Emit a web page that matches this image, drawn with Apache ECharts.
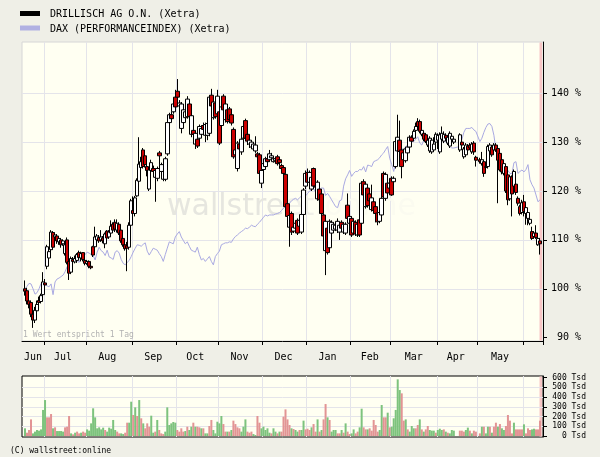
<!DOCTYPE html>
<html><head><meta charset="utf-8">
<script src="https://cdn.jsdelivr.net/npm/echarts@6/dist/echarts.min.js"></script>
<style>html,body{margin:0;padding:0;background:#efefe7;}#c{width:600px;height:457px;}</style>
</head><body><div id="c"></div>
<script>
// ---- axis / category data ----
const monthNames = ['Jun','Jul','Aug','Sep','Oct','Nov','Dec','Jan','Feb','Mar','Apr','May','Jun'];
const monthDays  = [11,21,23,22,21,22,22,22,20,23,20,23,10];
const labelSlots = [5,20,42,65,86,108,130,152,173,195,216,238];
const priceTicks = [90,100,110,120,130,140];
const priceGridLines = [100,110,120,130,140];
const volumeTicks = [0,100,200,300,400,500,600];
const volumeGridLines = [100,200,300,400,500];

// ---- DRILLISCH candles [open, close, low, high] in % ----
const drillisch = [
null,
[100.0,99.5,98.6,101.7],[99.6,97.5,96.8,100.2],[97.5,96.8,96.0,98.6],[97.2,94.8,94.2,97.6],[94.8,93.6,92.0,96.2],
[93.6,95.6,93.0,96.3],[95.5,96.8,95.0,97.6],[97.6,97.2,96.6,98.4],[97.4,98.6,97.0,99.0],[98.8,101.4,98.2,103.4],
[101.2,100.8,99.8,102.0],[104.6,108.6,104.0,109.0],[106.3,107.6,105.5,108.0],[108.0,111.6,107.5,112.0],[111.5,108.5,108.0,111.8],
[110.6,111.0,110.0,111.5],[110.8,109.8,109.2,111.2],[109.6,110.3,109.0,110.8],[110.0,109.0,108.4,110.4],[109.2,109.8,108.8,110.1],
[107.2,109.0,106.8,109.4],[110.0,105.4,105.0,110.5],[105.6,103.2,101.8,106.0],[103.4,106.2,103.0,106.6],[106.0,105.6,105.0,106.5],
[105.5,106.2,105.2,106.8],[105.8,107.0,105.3,107.3],[107.4,106.4,106.0,107.8],[106.3,107.2,105.6,107.6],[107.4,106.0,105.6,107.5],
[105.8,105.2,104.8,106.2],[105.2,105.6,104.9,105.9],[105.6,104.6,104.2,105.8],[104.6,104.3,104.0,105.4],[108.6,106.9,106.5,108.8],
[108.6,110.6,108.3,112.7],[110.0,110.8,109.5,111.2],[110.5,109.8,109.4,111.0],[110.0,110.6,109.6,112.0],[110.4,109.8,109.3,110.8],
[109.2,111.2,108.3,111.5],[111.8,110.4,110.0,112.0],[110.6,111.6,110.2,112.0],[111.4,112.8,111.0,114.0],[113.2,112.0,111.8,113.6],
[113.6,112.2,111.6,114.2],[112.0,113.4,111.5,114.2],[113.2,111.4,111.0,113.6],[112.0,109.8,109.4,112.4],[110.3,109.0,108.6,110.6],
[109.0,108.2,107.8,109.6],[108.8,108.3,103.6,109.6],[108.5,113.0,108.0,113.6],[113.0,118.0,112.6,118.4],[116.0,115.4,114.8,118.9],
[115.4,118.6,114.8,119.0],[119.0,122.2,118.8,122.6],[122.0,125.5,121.0,131.0],[124.8,126.0,124.2,127.0],[128.4,125.0,124.6,128.8],
[127.2,125.4,124.8,127.6],[125.0,124.2,123.0,125.6],[120.4,124.3,120.0,124.8],[124.2,125.8,123.6,126.4],[124.6,124.0,123.6,125.2],
[122.8,124.2,117.8,124.6],[122.6,124.6,122.0,125.0],[127.8,127.2,124.0,128.2],[124.0,125.4,123.2,125.8],[122.4,124.0,122.0,124.6],
[122.4,126.6,122.0,127.0],[127.6,134.0,127.2,134.4],[134.0,135.6,133.6,136.0],[135.6,134.8,134.2,136.2],[136.2,137.8,135.8,138.2],
[139.2,137.2,136.8,140.7],[140.4,139.2,138.8,142.9],[137.4,138.0,137.0,138.6],[132.8,137.8,131.8,138.2],[134.0,136.6,133.2,137.0],
[135.0,136.2,134.4,137.0],[135.2,138.8,134.8,139.4],[137.8,135.2,134.8,138.2],[131.6,135.4,131.0,135.8],[132.4,131.6,129.6,132.8],
[129.6,131.8,128.6,132.2],[130.6,129.2,128.8,131.0],[130.8,133.2,130.4,133.6],[131.6,132.8,131.0,133.4],[133.4,132.6,132.0,134.0],
[131.4,133.6,130.0,134.0],[131.4,133.8,130.4,134.2],[131.8,139.2,131.2,139.6],[139.6,137.4,137.0,140.9],[135.0,138.2,134.6,138.6],
[138.0,135.2,134.8,138.4],[135.8,139.4,135.4,140.7],[136.2,129.8,129.4,136.6],[133.4,137.2,133.0,138.0],[139.4,136.6,136.2,139.8],
[134.6,137.8,134.0,138.2],[136.6,134.2,133.8,137.0],[136.8,134.6,134.2,137.2],[135.6,133.9,133.4,136.0],[132.6,127.0,126.6,133.0],
[127.4,128.4,126.8,129.0],[124.6,129.8,124.0,130.2],[129.6,128.6,127.6,130.4],[128.0,130.6,127.4,131.0],[130.8,133.2,130.4,133.6],
[134.4,130.8,130.4,134.8],[131.6,130.2,129.4,132.0],[129.6,130.4,128.8,131.2],[129.0,130.0,128.6,130.4],[128.6,129.6,128.2,130.0],
[128.2,129.4,127.8,131.2],[127.6,127.0,126.8,128.0],[127.4,123.6,123.2,127.8],[121.6,124.2,120.6,124.6],[124.4,125.6,124.0,126.0],
[125.0,126.6,124.6,127.0],[126.6,126.0,125.6,127.0],[126.4,127.6,126.0,128.4],[126.8,127.2,126.4,127.8],[126.0,126.6,125.8,127.0],
[126.2,126.6,125.8,127.0],[127.0,125.6,125.2,127.4],[126.4,125.8,125.2,126.8],[125.2,124.6,124.2,125.6],[124.8,123.6,123.2,125.0],
[123.4,116.8,116.4,123.6],[117.4,114.8,114.2,117.8],[112.6,115.0,108.6,115.4],[115.4,111.6,111.0,115.8],[111.8,112.6,111.4,113.0],
[112.4,113.4,112.0,113.8],[114.0,111.4,111.0,114.4],[112.8,114.0,112.2,114.4],[111.6,115.2,111.2,115.6],[115.2,120.2,114.8,120.6],
[121.0,123.6,120.4,124.2],[123.8,121.8,121.4,124.6],[121.8,123.8,121.4,124.2],[120.4,122.8,120.0,123.2],[124.6,121.0,120.6,124.8],
[121.0,120.8,120.2,121.6],[118.4,121.8,118.0,122.2],[120.4,118.2,117.8,120.8],[119.4,115.4,115.0,119.8],[115.1,110.8,110.4,115.4],
[107.8,113.8,102.8,114.2],[112.4,107.4,107.0,112.8],[108.4,113.8,108.0,114.2],[111.4,113.6,111.0,114.0],[112.0,113.2,111.6,113.6],
[112.2,113.0,111.8,113.4],[112.0,113.8,111.4,114.4],[111.6,113.0,110.0,113.4],[113.6,112.4,112.0,114.0],[111.6,113.2,111.2,113.6],
[111.4,113.2,111.0,113.6],[117.1,114.4,114.0,119.5],[113.4,114.8,113.0,115.6],[114.4,111.0,110.6,114.8],[111.4,113.8,111.0,114.2],
[113.6,111.2,110.8,114.0],[111.0,113.2,110.6,113.6],[114.1,111.0,110.6,114.4],[113.4,121.6,113.0,122.0],[121.9,119.2,118.8,122.4],
[116.8,121.4,116.4,121.8],[120.6,117.0,116.6,121.0],[119.4,118.0,117.6,119.8],[116.2,118.6,115.8,121.3],[117.8,116.0,115.6,118.2],
[116.8,115.4,113.6,117.2],[115.5,113.7,113.0,115.8],[113.8,115.6,113.4,116.0],[115.1,118.5,114.8,118.9],[123.6,118.8,118.4,124.0],
[118.5,123.4,118.0,123.8],[121.6,119.6,119.2,122.0],[120.6,121.6,120.2,122.0],[122.6,119.2,119.0,123.0],[121.9,122.6,121.4,123.0],
[125.0,130.1,124.6,130.6],[128.2,131.0,127.8,135.6],[130.4,128.1,127.6,134.4],[128.4,125.0,122.6,128.8],[126.4,127.8,126.0,128.2],
[126.2,128.6,125.8,129.0],[127.8,129.0,127.4,129.4],[129.0,131.0,128.6,131.4],[131.0,130.2,129.8,131.4],[130.8,132.2,130.4,132.6],
[132.4,133.2,131.8,134.0],[134.2,133.2,132.8,134.9],[134.2,132.2,131.8,134.6],[131.6,132.4,131.2,132.8],[131.8,130.6,130.2,132.2],
[131.5,130.1,129.8,131.8],[129.4,130.4,129.0,130.8],[128.2,130.8,127.8,131.2],[128.0,130.4,127.6,130.8],[128.4,129.6,128.0,131.0],
[130.0,131.6,129.6,132.0],[130.4,131.4,128.6,131.8],[128.0,131.5,127.6,132.0],[130.6,131.8,130.2,133.2],[130.2,131.6,129.8,132.2],
[131.4,130.8,130.4,131.8],[129.8,131.0,129.4,131.4],[129.2,131.8,128.8,132.2],[130.6,131.2,130.0,131.6],[130.0,130.6,129.6,131.0],
null,null,
[128.4,131.5,128.0,131.8],[130.0,129.4,129.0,130.4],[127.0,128.6,126.6,129.0],[127.4,129.4,127.0,129.8],[129.2,128.4,128.0,129.6],
[129.4,128.8,128.4,129.8],[128.0,129.6,127.6,130.0],[129.8,128.0,127.4,130.2],[126.9,126.3,125.0,127.2],
null,
[126.4,126.0,125.6,126.8],[125.6,126.4,125.2,128.0],[126.0,123.6,122.9,126.4],[124.8,125.0,124.4,125.4],[125.0,129.1,124.6,129.5],
[128.2,129.4,127.8,129.8],[129.0,127.4,127.0,129.4],[128.4,129.4,128.0,129.8],[129.4,128.4,128.0,129.8],[128.7,126.3,117.5,129.0],
[127.7,124.3,124.0,128.0],[126.4,123.9,123.4,126.8],[123.6,125.6,123.2,126.0],[125.0,120.0,119.6,125.4],[123.3,118.2,117.1,123.6],
[118.4,122.9,118.0,123.2],[122.9,119.4,114.8,123.2],[121.0,124.0,120.6,124.4],[121.4,119.7,119.2,121.8],[118.5,117.5,117.0,118.9],
[116.8,115.4,115.0,117.2],[115.6,117.6,115.2,118.2],[117.8,115.8,114.8,119.2],[115.4,116.6,113.1,117.0],[114.4,115.6,113.0,116.0],
[113.4,114.2,113.0,114.6],[111.7,110.3,110.0,112.7],[110.7,111.4,110.2,111.8],[111.4,110.5,110.2,113.0],[109.0,110.3,108.8,110.6],
[109.8,109.2,107.0,110.4],
null
];

// ---- DAX performance index, % of start ----
const dax = [
null,
100.0,100.5,101.1,101.0,100.0,98.9,99.2,100.0,101.1,101.2,
100.8,100.6,100.4,101.0,98.8,101.4,102.0,102.2,102.5,102.8,
103.5,104.5,105.0,105.4,106.0,106.4,105.7,105.4,106.4,106.5,
107.0,107.5,107.3,107.0,106.8,105.9,107.5,108.5,107.8,107.5,
106.8,107.9,106.5,106.3,106.0,107.5,107.8,107.3,106.0,105.2,
104.9,105.4,105.8,106.6,107.5,108.3,109.0,108.9,108.7,109.1,
109.4,107.7,106.9,107.6,108.3,108.1,107.9,107.2,106.6,105.6,
107.0,108.3,109.6,109.4,109.2,110.6,111.2,111.7,110.6,109.9,
109.2,109.6,108.7,107.9,107.7,107.5,108.5,107.0,105.9,106.2,
105.6,106.1,106.6,105.6,104.9,106.6,107.2,107.7,109.0,109.2,
109.4,109.4,109.6,109.5,110.2,110.7,111.0,111.4,111.7,112.0,
112.4,112.3,112.6,113.0,112.8,112.7,113.2,113.6,114.1,114.6,
115.1,114.9,115.1,115.1,115.1,115.3,115.4,115.6,116.0,116.5,
116.8,117.2,117.5,118.0,118.3,118.5,118.2,118.6,119.0,119.4,
119.0,119.5,120.0,120.2,120.5,119.8,119.5,120.2,120.6,120.6,
119.1,119.5,118.9,118.2,117.5,116.8,116.6,118.0,118.2,121.0,
122.5,123.3,124.2,123.0,123.6,124.0,124.0,124.4,124.3,125.0,
123.9,125.3,125.2,125.0,126.0,126.2,126.4,126.8,127.4,127.8,
128.5,129.1,126.7,125.4,124.0,126.0,128.0,128.4,128.7,128.4,
129.1,129.4,129.8,130.1,130.1,130.6,131.1,129.8,129.4,130.4,
130.7,130.4,129.1,129.8,130.1,130.3,130.4,131.1,130.7,130.5,
130.1,129.6,129.1,128.8,128.8,null,null,129.1,130.5,132.0,
132.8,132.8,132.8,133.0,132.5,132.2,null,130.1,130.8,132.0,
133.0,133.7,133.8,133.2,131.4,128.5,127.2,126.5,125.8,125.2,
124.7,124.2,123.6,123.5,125.8,126.0,123.6,124.0,124.3,123.9,
124.4,125.4,122.3,121.3,120.6,119.2,117.8,118.2,
null
];

// ---- volume in Tsd ----
const volume = [
null,79,34,62,171,27,45,62,55,68,
268,370,192,192,226,79,89,51,51,51,
45,89,96,206,27,17,34,45,27,34,
45,34,68,55,130,285,192,79,89,68,
86,62,45,86,75,165,62,45,27,27,
20,34,137,137,353,216,295,206,370,182,
130,79,130,96,209,34,45,165,62,27,
20,45,295,113,130,144,137,62,45,79,
45,51,96,62,96,137,96,96,89,79,
79,27,27,103,165,62,27,147,130,206,
123,45,45,45,62,158,123,89,79,45,
96,171,45,34,45,20,10,206,137,79,
96,62,79,34,27,79,45,27,45,45,
199,274,171,113,79,72,62,45,62,62,
158,68,75,62,89,123,45,171,45,62,
171,329,192,165,45,62,62,27,27,62,
34,130,45,20,27,68,27,45,89,281,
89,68,68,79,55,165,113,45,62,319,
192,192,240,89,96,182,268,583,473,439,
158,171,68,45,103,79,79,113,171,68,
45,68,103,62,55,55,34,62,75,62,
68,45,34,27,62,55,null,null,55,55,
45,62,86,55,27,55,45,null,27,96,
96,27,96,96,34,96,137,96,123,79,
62,103,216,158,27,137,68,68,68,68,
120,27,79,62,68,75,68,68,158,null
];
// 1 = green bar, 0 = red bar
const volumeUp = [
0,1,0,0,0,1,1,1,1,1, 1,1,0,0,0,1,0,1,1,1, 1,0,0,0,1,0,1,0,0,1, 0,0,1,1,1,1,1,1,1,1,
1,0,1,1,1,1,1,0,0,1, 1,0,0,1,1,0,1,0,1,0, 1,0,0,0,1,1,0,1,0,0, 0,1,1,1,1,1,1,0,0,0,
0,1,0,1,1,0,1,0,0,1, 0,1,1,0,0,1,1,1,1,1, 0,0,1,0,1,0,0,0,0,1, 1,1,0,0,0,1,1,0,0,1,
1,1,1,1,0,1,1,0,1,0, 0,0,0,0,1,0,1,1,0,1, 1,0,0,0,1,0,0,1,0,1, 0,0,1,0,1,1,1,0,0,1,
0,1,0,0,1,1,0,0,1,1, 0,0,1,0,0,0,0,0,1,1, 0,0,1,0,1,1,1,1,1,0, 0,1,0,1,1,1,0,0,1,0,
1,0,0,1,1,1,0,1,1,1, 0,1,0,1,1,1,0,0,0,0, 0,1,1,0,1,0,0,0,0,1, 0,1,1,0,1,0,0,1,0,1,
1,0,0,0,0,1,0,0,0,0, 1,0,0,0,1,1,0,0,0,0
];

// ---- build categories ----
const categories = [];
const monthStarts = new Set();
monthNames.forEach((m, k) => {
  if (k > 0) monthStarts.add(categories.length);
  for (let d = 1; d <= monthDays[k]; d++) categories.push(m + '-' + k + '-' + d);
});
const labelSet = new Set(labelSlots);

const FONT = '"DejaVu Sans Mono", "Liberation Mono", monospace';
const GRIDC = '#e4e4ea';
const GREEN = '#7dc37d', PINK = '#e29494';

const chart = echarts.init(document.getElementById('c'), null, {renderer: 'canvas'});
chart.setOption({
  animation: false,
  backgroundColor: '#efefe7',
  grid: [
    {left: 22, right: 57, top: 42, height: 299, show: true, backgroundColor: '#fffff2', borderColor: '#d6d6d6', borderWidth: 1},
    {left: 22, right: 57, top: 376, height: 61, show: true, backgroundColor: '#fffff2', borderColor: '#000', borderWidth: 1}
  ],
  xAxis: [
    {type: 'category', gridIndex: 0, data: categories, boundaryGap: true,
     axisLine: {show: true, lineStyle: {color: '#000', width: 1}},
     axisTick: {show: true, length: 4, interval: (i) => monthStarts.has(i), lineStyle: {color: '#000'}},
     axisLabel: {interval: (i) => labelSet.has(i), formatter: (v) => v.split('-')[0], color: '#000', fontSize: 10, fontFamily: FONT, margin: 11},
     splitLine: {show: true, interval: (i) => monthStarts.has(i), lineStyle: {color: GRIDC, width: 1}}},
    {type: 'category', gridIndex: 1, data: categories, boundaryGap: true,
     axisLine: {show: false}, axisTick: {show: false}, axisLabel: {show: false},
     splitLine: {show: true, interval: (i) => monthStarts.has(i), lineStyle: {color: GRIDC, width: 1}}}
  ],
  yAxis: [
    {type: 'value', gridIndex: 0, position: 'right', min: 89.32, max: 150.48, scale: true,
     axisLine: {show: true, lineStyle: {color: '#000'}},
     axisTick: {show: true, length: 4, customValues: priceTicks, lineStyle: {color: '#000'}},
     axisLabel: {customValues: priceTicks, formatter: (v) => (Math.abs(v - Math.round(v / 10) * 10) < 0.01 ? Math.round(v) + ' %' : ''),
                 align: 'right', margin: 38, color: '#000', fontSize: 10, fontFamily: FONT},
     splitLine: {show: false}},
    {type: 'value', gridIndex: 1, position: 'right', min: -10.3, max: 617.5,
     axisLine: {show: true, lineStyle: {color: '#000'}},
     axisTick: {show: true, length: 4, customValues: volumeTicks, lineStyle: {color: '#000'}},
     axisLabel: {customValues: volumeTicks, formatter: (v) => (v >= 0 && v % 100 === 0 ? v + ' Tsd' : ''),
                 align: 'right', margin: 43, color: '#000', fontSize: 8, fontFamily: FONT},
     splitLine: {show: false}}
  ],
  series: [
    {name: 'DAX (PERFORMANCEINDEX) (Xetra)', type: 'line', xAxisIndex: 0, yAxisIndex: 0,
     data: dax, connectNulls: true, symbol: 'none', z: 2, silent: true,
     lineStyle: {color: '#a9a9e2', width: 1},
     markLine: {silent: true, z: 1, symbol: ['none', 'none'], label: {show: false}, animation: false,
                lineStyle: {color: GRIDC, type: 'solid', width: 1},
                data: priceGridLines.map((v) => ({yAxis: v}))}},
    {name: 'DRILLISCH AG O.N. (Xetra)', type: 'candlestick', xAxisIndex: 0, yAxisIndex: 0, z: 3,
     barWidth: 4, silent: true,
     data: drillisch.map((r) => (r ? r : ['-', '-', '-', '-'])),
     itemStyle: {color: '#ffffff', color0: '#cc0000', borderColor: '#000000', borderColor0: '#000000', borderWidth: 1}},
    {name: 'Volumen', type: 'bar', xAxisIndex: 1, yAxisIndex: 1, barCategoryGap: '0%', z: 2, silent: true,
     data: volume.map((v, i) => (v == null ? '-' : {value: v, itemStyle: {color: volumeUp[i] ? GREEN : PINK}})),
     markLine: {silent: true, z: 1, symbol: ['none', 'none'], label: {show: false}, animation: false,
                lineStyle: {color: GRIDC, type: 'solid', width: 1},
                data: volumeGridLines.map((v) => ({yAxis: v}))}}
  ],
  graphic: [
    {type: 'text', z: 1, silent: true, style: {x: 167, y: 222, text: '{a|wallstre}{b|et}{c|:online}', verticalAlign: 'bottom',
      font: '30px "DejaVu Sans"',
      rich: {a: {fill: '#e6e6df', font: '30px "DejaVu Sans"'}, b: {fill: '#f0f0e8', font: '30px "DejaVu Sans"'}, c: {fill: '#fbfbf0', font: '30px "DejaVu Sans"'}}}},
    {type: 'rect', z: 1, silent: true, shape: {x: 539.5, y: 42.5, width: 2.5, height: 298}, style: {fill: '#f8c6c6'}},
    {type: 'rect', z: 1, silent: true, shape: {x: 539.5, y: 376.5, width: 2.5, height: 60}, style: {fill: '#f8c6c6'}},
    {type: 'text', z: 10, silent: true, style: {x: 23, y: 335, text: '1 Wert entspricht 1 Tag', font: '8px ' + FONT, fill: '#b2b2b2', verticalAlign: 'middle'}},
    {type: 'rect', silent: true, shape: {x: 20, y: 11, width: 20, height: 5}, style: {fill: '#000000'}},
    {type: 'text', silent: true, style: {x: 50, y: 14, text: 'DRILLISCH AG O.N. (Xetra)', font: '10px ' + FONT, fill: '#000', verticalAlign: 'middle'}},
    {type: 'rect', silent: true, shape: {x: 20, y: 25.5, width: 20, height: 5}, style: {fill: '#b0b0e2'}},
    {type: 'text', silent: true, style: {x: 50, y: 29, text: 'DAX (PERFORMANCEINDEX) (Xetra)', font: '10px ' + FONT, fill: '#000', verticalAlign: 'middle'}},
    {type: 'text', silent: true, style: {x: 10, y: 450.5, text: '(C) wallstreet:online', font: '8px ' + FONT, fill: '#000', verticalAlign: 'middle'}}
  ]
});
</script>
</body></html>
